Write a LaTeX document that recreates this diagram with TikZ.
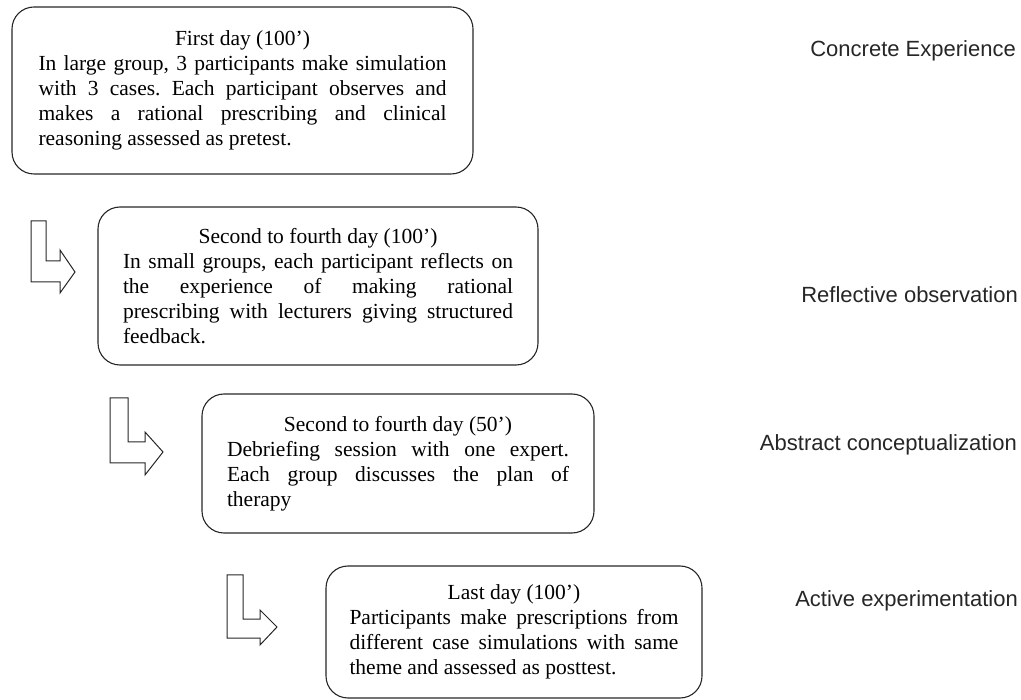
\documentclass[tikz,border=0pt]{standalone}
\usepackage{fontspec}
\setmainfont{Liberation Serif}
\newfontfamily\labelfont{Liberation Sans}
\newcommand\normalspacing{\spaceskip=0pt\xspaceskip=0pt\frenchspacing}
\begin{document}
\begin{tikzpicture}[x=1pt,y=-1pt,
  stagebox/.style={draw=black!85, line width=1.1pt, rounded corners=22pt, inner ysep=0pt,
    font=\fontsize{21.5}{25}\selectfont},
  phaselabel/.style={anchor=base east, inner sep=0pt, font=\labelfont\fontsize{22}{26}\selectfont, text=black!85},
  larrow/.style={draw=black!85, line width=1pt, line join=miter}]
\useasboundingbox (0,0) rectangle (1021,700);

\node[stagebox, text width=408pt, inner xsep=26.5pt, minimum width=461pt, minimum height=167pt] (s1) at (242.5,90.5) {\normalspacing
\hbox to\hsize{\hfil First day (100’)\hfil}
\hbox to\hsize{In large group, 3 participants make simulation}
\hbox to\hsize{with 3 cases. Each participant observes and}
\hbox to\hsize{makes a rational prescribing and clinical}
\hbox to\hsize{reasoning assessed as pretest.\hfil}};

\node[stagebox, text width=390pt, inner xsep=25pt, minimum width=440pt, minimum height=158pt] (s2) at (318,286) {\normalspacing
\hbox to\hsize{\hfil Second to fourth day (100’)\hfil}
\hbox to\hsize{In small groups, each participant reflects on}
\hbox to\hsize{the experience of making rational}
\hbox to\hsize{prescribing with lecturers giving structured}
\hbox to\hsize{feedback.\hfil}};

\node[stagebox, text width=342pt, inner xsep=25pt, minimum width=392pt, minimum height=139pt] (s3) at (398,463.5) {\normalspacing
\hbox to\hsize{\hfil Second to fourth day (50’)\hfil}
\hbox to\hsize{Debriefing session with one expert.}
\hbox to\hsize{Each group discusses the plan of}
\hbox to\hsize{therapy\hfil}};

\node[stagebox, text width=329pt, inner xsep=23.5pt, minimum width=376pt, minimum height=132pt] (s4) at (514,632) {\normalspacing
\hbox to\hsize{\hfil Last day (100’)\hfil}
\hbox to\hsize{Participants make prescriptions from}
\hbox to\hsize{different case simulations with same}
\hbox to\hsize{theme and assessed as posttest.\hfil}};

\node[phaselabel] (l1) at (1016,57) {Concrete Experience};
\node[phaselabel] (l2) at (1018,303) {Reflective observation};
\node[phaselabel] (l3) at (1017,451) {Abstract conceptualization};
\node[phaselabel] (l4) at (1018,606) {Active experimentation};

\draw[larrow] (31,221) -- (46,221) -- (46,261) -- (60,261) -- (60,250) -- (75,272) -- (60,293) -- (60,282) -- (31,282) -- cycle;
\draw[larrow] (110,398) -- (128,398) -- (128,442) -- (145,442) -- (145,432) -- (163,452) -- (145,475) -- (145,463) -- (110,463) -- cycle;
\draw[larrow] (227,575) -- (243,575) -- (243,619) -- (260,619) -- (260,610) -- (277,627) -- (260,645) -- (260,638) -- (227,638) -- cycle;
\end{tikzpicture}
\end{document}
